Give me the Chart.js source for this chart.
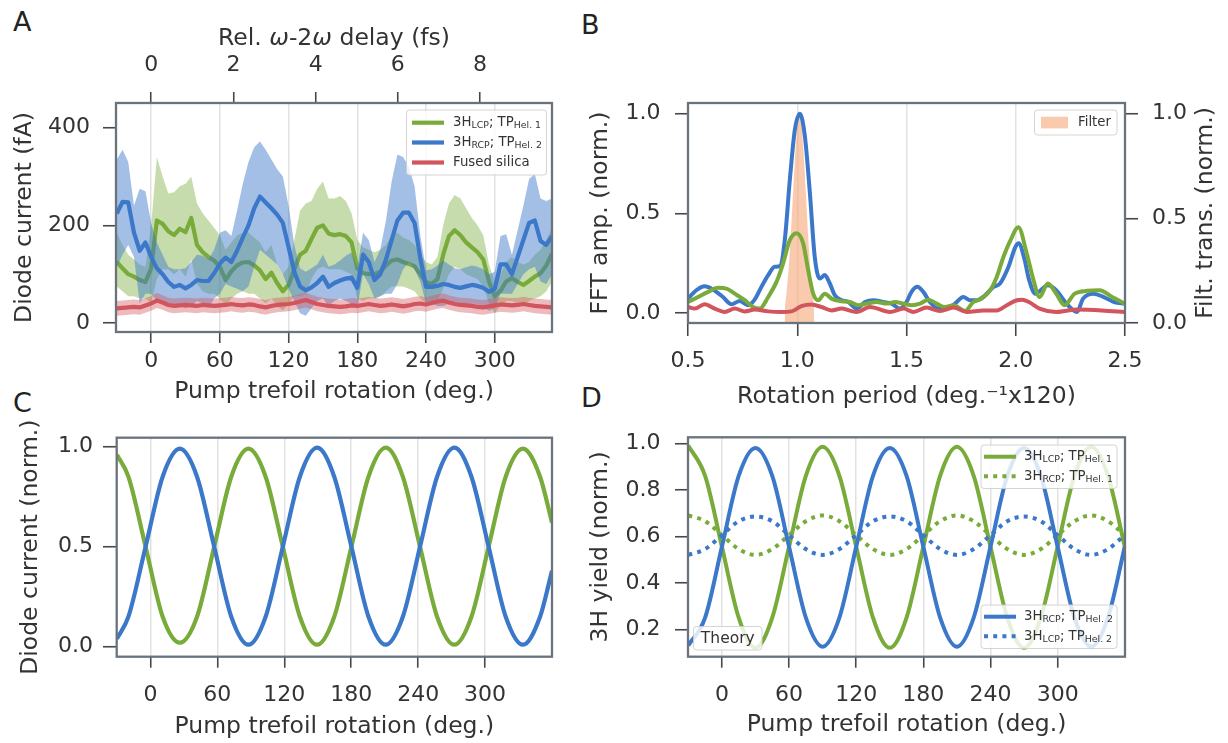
<!DOCTYPE html>
<html>
<head>
<meta charset="utf-8">
<script src="https://cdn.jsdelivr.net/npm/chart.js@4.4.1/dist/chart.umd.min.js"></script>
<style>
  html, body { margin: 0; padding: 0; background: #fff; }
  #fig { position: relative; width: 1228px; height: 743px; overflow: hidden; }
  canvas { position: absolute; }
  .lab { position: absolute; font: 27px "DejaVu Sans", sans-serif; color: #222; line-height: 1; }
</style>
</head>
<body>
<div id="fig">
  <div class="lab" style="left:13px;top:8px">A</div>
  <div class="lab" style="left:581px;top:11px">B</div>
  <div class="lab" style="left:13px;top:389px">C</div>
  <div class="lab" style="left:581px;top:384px">D</div>
  <canvas id="cA" width="580" height="410" style="left:0;top:0"></canvas>
  <canvas id="cB" width="648" height="412" style="left:580px;top:0"></canvas>
  <canvas id="cC" width="580" height="333" style="left:0;top:410px"></canvas>
  <canvas id="cD" width="648" height="333" style="left:580px;top:410px"></canvas>
</div>
<script>
// ---------- data ----------
// A: measured diode current vs pump trefoil rotation (deg)
const A_ROT = [-30,-25,-20,-15,-10,-5,0,5,10,15,
  20,25,30,35,40,45,50,55,60,65,
  70,75,80,85,90,95,100,105,110,115,
  120,125,130,135,140,145,150,155,160,165,
  170,175,180,185,190,195,200,205,210,215,
  220,225,230,235,240,245,250,255,260,265,
  270,275,280,285,290,295,300,305,310,315,
  320,325,330,335,340,345,350];
const A_BLUE = [224,248,247,185,148,165,135,112,100,84,
  74,78,71,78,88,86,86,102,122,134,
  125,148,175,200,235,259,247,235,222,205,
  155,105,75,67,73,82,95,74,82,87,
  91,93,72,140,125,88,100,130,170,210,
  226,226,205,133,74,74,76,80,78,74,
  72,75,78,76,72,64,70,120,120,100,
  135,170,205,210,168,160,178];
const A_BLUE_HI = [335,355,330,240,275,270,205,165,140,115,
  110,110,112,125,140,138,130,150,185,190,
  178,230,285,330,360,372,355,335,315,300,
  240,160,112,105,112,120,140,115,120,128,
  138,145,112,185,170,125,150,210,290,345,
  340,320,280,180,108,110,118,128,120,112,
  110,114,118,115,110,100,105,178,182,140,
  190,240,295,305,255,250,255];
const A_BLUE_LO = [115,140,160,135,40,60,60,45,40,38,
  35,35,30,35,45,40,30,50,60,80,
  75,70,65,75,115,150,140,130,120,100,
  70,45,20,15,30,45,50,35,45,50,
  45,40,30,100,80,50,55,60,60,80,
  110,125,110,85,40,40,35,35,40,38,
  35,35,40,38,32,25,30,60,60,60,
  80,100,110,115,85,80,100];
const A_GREEN = [125,112,100,95,88,84,112,210,203,188,
  180,193,186,215,160,145,135,128,115,88,
  106,118,124,125,118,108,90,103,82,65,
  78,110,140,148,172,195,200,183,180,182,
  178,165,112,102,100,100,105,118,128,130,
  125,121,116,100,84,80,90,140,178,190,
  180,165,155,145,130,85,55,66,85,92,
  84,78,86,95,102,118,142];
const A_GREEN_HI = [185,160,140,130,120,115,200,340,300,265,
  268,280,285,300,245,225,210,195,180,150,
  165,180,185,185,175,165,145,160,120,100,
  115,170,230,245,250,275,290,255,255,260,
  250,225,170,155,150,145,150,160,180,185,
  175,170,160,140,125,120,135,200,245,262,
  255,235,215,200,180,120,85,100,125,135,
  125,120,125,140,150,170,195];
const A_GREEN_LO = [75,65,55,55,50,50,40,90,110,110,
  100,110,95,130,80,65,60,60,50,35,
  50,60,65,60,60,50,40,50,35,25,
  40,55,55,60,90,110,115,110,110,110,
  105,100,50,45,50,50,55,65,75,75,
  75,70,65,50,40,40,45,70,100,115,
  110,100,95,90,75,40,20,35,45,45,
  40,35,45,50,55,65,85];
const A_RED = [30,31,32,33,32,36,40,46,42,37,
  35,36,37,36,35,37,36,35,36,37,
  39,37,36,38,37,34,32,35,37,38,
  39,41,44,47,43,39,37,35,34,33,
  34,36,35,37,39,37,35,36,38,36,
  34,36,39,40,38,41,44,46,42,39,
  37,36,35,33,32,34,36,38,37,36,
  37,39,37,35,34,33,32];
const A_RED_HI = [45,46,47,48,47,51,55,62,57,52,
  50,51,52,51,50,52,51,50,51,52,
  54,52,51,53,52,49,47,50,52,53,
  54,56,59,62,58,54,52,50,49,48,
  49,51,50,52,54,52,50,51,53,51,
  49,51,54,55,53,56,59,61,57,54,
  52,51,50,48,47,49,51,53,52,51,
  52,54,52,50,49,48,47];
const A_RED_LO = [15,16,17,18,17,21,25,31,27,22,
  20,21,22,21,20,22,21,20,21,22,
  24,22,21,23,22,19,17,20,22,23,
  24,26,29,32,28,24,22,20,19,18,
  19,21,20,22,24,22,20,21,23,21,
  19,21,24,25,23,26,29,31,27,24,
  22,21,20,18,17,19,21,23,22,21,
  22,24,22,20,19,18,17];
const A_Y_TICKS = [0, 200, 400];
const ROT_TICKS = [0, 60, 120, 180, 240, 300];
const DELAY_TICKS = [0, 2, 4, 6, 8];

// B: FFT amplitude vs rotation period
const B_BLUE_X = [0.5,0.538,0.576,0.615,0.66,0.699,0.737,0.775,0.805,0.836,0.867,0.897,0.92,0.943,0.966,0.989,1.012,1.035,1.058,1.08,
  1.103,1.126,1.149,1.172,1.203,1.234,1.272,1.31,1.348,1.394,1.432,1.47,1.5,1.523,1.549,1.577,1.607,1.646,1.684,1.722,
  1.76,1.791,1.822,1.86,1.898,1.928,1.967,1.998,2.013,2.04,2.06,2.09,2.147,2.185,2.232,2.28,2.308,2.356,2.403,2.45,2.5];
const B_BLUE_Y = [0.072,0.114,0.134,0.117,0.08,0.044,0.06,0.039,0.067,0.131,0.19,0.232,0.235,0.366,0.668,0.919,1.0,0.886,0.6,0.282,
  0.173,0.19,0.148,0.089,0.064,0.055,0.022,0.055,0.064,0.055,0.047,0.022,0.055,0.106,0.131,0.106,0.055,0.022,0.022,0.047,
  0.08,0.064,0.064,0.089,0.131,0.148,0.232,0.33,0.35,0.27,0.17,0.097,0.139,0.114,0.047,0.005,0.072,0.097,0.08,0.055,0.047];
const B_GREEN_X = [0.5,0.546,0.592,0.637,0.676,0.714,0.76,0.798,0.829,0.867,0.905,0.935,0.966,0.997,1.027,1.05,1.073,1.096,1.126,1.157,
  1.203,1.241,1.279,1.318,1.363,1.409,1.447,1.486,1.524,1.562,1.6,1.638,1.676,1.715,1.768,1.806,1.844,1.883,1.913,1.944,
  1.974,2.012,2.05,2.08,2.109,2.147,2.185,2.223,2.27,2.327,2.384,2.441,2.5];
const B_GREEN_Y = [0.055,0.08,0.106,0.126,0.122,0.097,0.064,0.03,0.022,0.08,0.156,0.248,0.366,0.40,0.349,0.215,0.097,0.064,0.097,0.072,
  0.059,0.055,0.039,0.047,0.055,0.047,0.055,0.047,0.039,0.047,0.067,0.047,0.03,0.039,0.01,0.055,0.072,0.114,0.181,0.282,
  0.36,0.43,0.3,0.17,0.08,0.148,0.097,0.039,0.097,0.111,0.114,0.08,0.047];
const B_RED_X = [0.5,0.531,0.576,0.622,0.668,0.714,0.76,0.805,0.867,0.928,0.974,1.019,1.065,1.111,1.157,1.203,1.272,1.333,
  1.424,1.486,1.531,1.592,1.653,1.715,1.776,1.852,1.913,1.959,2.005,2.03,2.06,2.109,2.185,2.28,2.394,2.5];
const B_RED_Y = [0.03,0.022,0.044,0.022,0.005,0.022,0.008,0.017,0.008,0.005,0.008,0.034,0.042,0.03,0.013,0.022,0.005,0.03,
  0.005,0.022,0.005,0.027,0.01,0.027,0.005,0.013,0.013,0.039,0.064,0.067,0.055,0.022,0.005,0.017,0.013,0.005];
const B_FILTER_X = [0.943,0.944,0.95,0.96,0.97,0.98,0.99,1.0,1.01,1.02,1.03,1.04,1.05,1.06,1.07,1.076,1.077];
const B_FILTER_Y = [0,0.085,0.135,0.25,0.41,0.607,0.8,0.946,1.0,0.946,0.8,0.607,0.41,0.25,0.135,0.09,0];
const B_X_TICKS = [0.5, 1.0, 1.5, 2.0, 2.5];
const B_Y_TICKS = [0, 0.5, 1.0];

// C: filtered diode current (normalised)
const C_ROT = [-30,-19.7,-4.3,11.0,26.4,41.8,57.2,72.5,87.9,103.3,118.7,134.0,149.4,164.8,180.2,195.5,210.9,226.3,241.7,257.0,
  272.4,287.8,303.2,318.5,333.9,349.3,360];
const C_BLUE = [0.04,0.15,0.5,0.85,0.99,0.85,0.5,0.15,0.01,0.15,0.5,0.85,0.995,0.85,0.5,0.15,0.01,0.15,0.5,0.85,
  0.995,0.85,0.5,0.15,0.01,0.15,0.38];
const C_GREEN = [0.96,0.85,0.5,0.15,0.02,0.15,0.5,0.85,0.99,0.85,0.5,0.15,0.01,0.15,0.5,0.85,0.995,0.85,0.5,0.15,
  0.01,0.15,0.5,0.85,0.99,0.85,0.62];
const C_Y_TICKS = [0, 0.5, 1.0];

// D: theory, 3H yield (normalised)
const D_ROT = [-30,-15,0,15,30,45,60,75,90,105,120,135,150,165,180,195,210,225,240,255,270,285,300,315,330,345,360];
const D_GREEN = [0.99,0.86,0.555,0.25,0.12,0.25,0.555,0.86,0.985,0.86,0.555,0.25,0.12,0.25,0.555,0.86,0.985,0.86,0.555,0.25,
  0.12,0.25,0.555,0.86,0.985,0.86,0.555];
const D_GREEN_DOT = [0.69,0.665,0.605,0.545,0.52,0.545,0.605,0.665,0.69,0.665,0.605,0.545,0.52,0.545,0.605,0.665,0.69,0.665,0.605,0.545,
  0.52,0.545,0.605,0.665,0.69,0.665,0.605];
const D_BLUE = [0.13,0.25,0.555,0.86,0.98,0.86,0.555,0.25,0.125,0.25,0.555,0.86,0.98,0.86,0.555,0.25,0.125,0.25,0.555,0.86,
  0.98,0.86,0.555,0.25,0.125,0.25,0.555];
const D_BLUE_DOT = [0.52,0.545,0.605,0.665,0.685,0.665,0.605,0.545,0.52,0.545,0.605,0.665,0.685,0.665,0.605,0.545,0.52,0.545,0.605,0.665,
  0.685,0.665,0.605,0.545,0.52,0.545,0.605];
const D_Y_TICKS = [0.2, 0.4, 0.6, 0.8, 1.0];

// legend labels: [text, isSubscript]
const LBL_LCP1 = [['3H',0],['LCP',1],['; TP',0],['Hel. 1',1]];
const LBL_RCP2 = [['3H',0],['RCP',1],['; TP',0],['Hel. 2',1]];
const LBL_RCP1 = [['3H',0],['RCP',1],['; TP',0],['Hel. 1',1]];
const LBL_LCP2 = [['3H',0],['LCP',1],['; TP',0],['Hel. 2',1]];
// top axis title of A, [text, italic]
const A_TOP_TITLE = [['Rel. ',0],['ω',1],['-2',0],['ω',1],[' delay (fs)',0]];

// ---------- styling ----------
const TXT = '#333333';
const SPINE = '#69737d';
const GRID = '#e2e2e2';
const TICKC = '#474747';
const GREEN = '#79ab3a';
const BLUE = '#3b78c9';
const RED = '#d2545d';
const FILTER = 'rgba(247,170,124,0.62)';
const FONT = '"DejaVu Sans", sans-serif';
Chart.defaults.font.family = FONT;
Chart.defaults.color = TXT;

const pts = (xs, ys) => xs.map((x, i) => ({ x: x, y: ys[i] }));

function axis(o) {
  const vertical = o.pos === 'left' || o.pos === 'right';
  return {
    type: 'linear', axis: vertical ? 'y' : 'x', position: o.pos, min: o.min, max: o.max,
    afterBuildTicks: s => { s.ticks = o.ticks.map(v => ({ value: v })); },
    afterFit: s => {
      if (vertical) s.width = o.size; else s.height = o.size;
      s.paddingLeft = 0; s.paddingRight = 0; s.paddingTop = 0; s.paddingBottom = 0;
    },
    grid: { drawOnChartArea: !!o.grid, color: GRID, lineWidth: 1.5, drawTicks: true,
            tickLength: o.tl, tickWidth: 1.6, tickColor: TICKC },
    border: { display: false },
    ticks: { font: { size: 22 }, color: TXT, padding: o.pad, maxRotation: 0, minRotation: 0,
             autoSkip: false, includeBounds: false, callback: o.fmt || (v => String(v)) },
    title: o.title ? { display: true, text: o.title, color: TXT, font: { size: 23.5 }, padding: o.tpad }
                   : { display: false }
  };
}
const one = v => v.toFixed(1);

function band(xs, ys, fillColor, order) {
  return { data: pts(xs, ys), borderColor: 'rgba(0,0,0,0)', borderWidth: 0, pointRadius: 0,
           fill: fillColor ? '-1' : false, backgroundColor: fillColor || 'rgba(0,0,0,0)', order: order };
}
function line(xs, ys, color, width, order, extra) {
  return Object.assign({ data: pts(xs, ys), borderColor: color, borderWidth: width, pointRadius: 0,
                         fill: false, order: order, borderJoinStyle: 'round', borderCapStyle: 'butt' }, extra || {});
}

const framePlugin = {
  id: 'frame',
  afterDatasetsDraw(chart) {
    const { ctx, chartArea: a } = chart;
    ctx.save();
    ctx.strokeStyle = SPINE; ctx.lineWidth = 2.3;
    ctx.strokeRect(a.left, a.top, a.right - a.left, a.bottom - a.top);
    ctx.restore();
  }
};
// draws on top of the chart in page coordinates
function overlay(ox, oy, fn) {
  return { id: 'overlay', afterDraw(chart) {
    const ctx = chart.ctx; ctx.save(); ctx.translate(-ox, -oy); fn(ctx); ctx.restore();
  } };
}
function roundRect(ctx, x, y, w, h, r) {
  ctx.beginPath();
  ctx.moveTo(x + r, y);
  ctx.arcTo(x + w, y, x + w, y + h, r);
  ctx.arcTo(x + w, y + h, x, y + h, r);
  ctx.arcTo(x, y + h, x, y, r);
  ctx.arcTo(x, y, x + w, y, r);
  ctx.closePath();
}
function legendBox(ctx, x, y, w, h) {
  roundRect(ctx, x, y, w, h, 3);
  ctx.fillStyle = 'rgba(255,255,255,0.82)'; ctx.fill();
  ctx.strokeStyle = 'rgba(205,205,205,0.85)'; ctx.lineWidth = 1; ctx.stroke();
}
function rich(ctx, parts, x, y) {
  ctx.fillStyle = TXT; ctx.textAlign = 'left'; ctx.textBaseline = 'middle';
  parts.forEach(([t, sub]) => {
    ctx.font = (sub ? 9.4 : 13.3) + 'px ' + FONT;
    ctx.fillText(t, x, sub ? y + 3 : y);
    x += ctx.measureText(t).width;
  });
}
function sample(ctx, x1, x2, y, color, width, dash) {
  ctx.save();
  ctx.strokeStyle = color; ctx.lineWidth = width; ctx.setLineDash(dash || []);
  ctx.beginPath(); ctx.moveTo(x1, y); ctx.lineTo(x2, y); ctx.stroke();
  ctx.restore();
}
const base = { responsive: false, animation: false, devicePixelRatio: 1,
               plugins: { legend: { display: false }, tooltip: { enabled: false } } };

// ---------- A ----------
new Chart(document.getElementById('cA'), {
  type: 'line',
  data: { datasets: [
    band(A_ROT, A_GREEN_LO, null, 6), band(A_ROT, A_GREEN_HI, 'rgba(121,171,58,0.42)', 6),
    line(A_ROT, A_GREEN, GREEN, 4.2, 5),
    band(A_ROT, A_BLUE_LO, null, 4), band(A_ROT, A_BLUE_HI, 'rgba(59,120,201,0.47)', 4),
    line(A_ROT, A_BLUE, BLUE, 4.2, 3),
    band(A_ROT, A_RED_LO, null, 2), band(A_ROT, A_RED_HI, 'rgba(210,84,93,0.4)', 2),
    line(A_ROT, A_RED, RED, 4.2, 1)
  ] },
  options: Object.assign({}, base, {
    layout: { padding: { right: 28 } },
    scales: {
      x: axis({ pos: 'bottom', min: -30.7, max: 350, ticks: ROT_TICKS, size: 78, tl: 11, pad: 5.5, grid: true,
                title: 'Pump trefoil rotation (deg.)', tpad: { top: 0, bottom: 4 } }),
      xTop: axis({ pos: 'top', min: -0.856, max: 9.749, ticks: DELAY_TICKS, size: 103, tl: 11, pad: 13.8 }),
      y: axis({ pos: 'left', min: -18.4, max: 450.6, ticks: A_Y_TICKS, size: 116, tl: 13, pad: 13,
                title: 'Diode current (fA)', tpad: { top: 11, bottom: 0 } })
    }
  }),
  plugins: [framePlugin, overlay(0, 0, ctx => {
    // top axis title with italic omega
    ctx.textBaseline = 'middle'; ctx.textAlign = 'left'; ctx.fillStyle = TXT;
    const fontOf = it => (it ? 'italic ' : '') + '23.5px ' + FONT;
    let w = 0;
    A_TOP_TITLE.forEach(([t, it]) => { ctx.font = fontOf(it); w += ctx.measureText(t).width; });
    let x = 334 - w / 2;
    A_TOP_TITLE.forEach(([t, it]) => { ctx.font = fontOf(it); ctx.fillText(t, x, 38.5); x += ctx.measureText(t).width; });
    // legend
    legendBox(ctx, 406.5, 110, 140, 65);
    [[122.7, GREEN, LBL_LCP1], [142.5, BLUE, LBL_RCP2], [162.5, RED, [['Fused silica', 0]]]].forEach(([y, c, lbl]) => {
      sample(ctx, 412, 444, y, c, 4.2);
      rich(ctx, lbl, 453, y);
    });
  })]
});

// ---------- B ----------
new Chart(document.getElementById('cB'), {
  type: 'line',
  data: { datasets: [
    { data: pts(B_FILTER_X, B_FILTER_Y), yAxisID: 'yR', borderColor: 'rgba(0,0,0,0)', borderWidth: 0, pointRadius: 0,
      fill: 'origin', backgroundColor: FILTER, order: 10 },
    line(B_BLUE_X, B_BLUE_Y, BLUE, 4, 3, { cubicInterpolationMode: 'monotone' }),
    line(B_GREEN_X, B_GREEN_Y, GREEN, 4, 2, { cubicInterpolationMode: 'monotone' }),
    line(B_RED_X, B_RED_Y, RED, 4, 1, { cubicInterpolationMode: 'monotone' })
  ] },
  options: Object.assign({}, base, {
    layout: { padding: { top: 103 } },
    scales: {
      x: axis({ pos: 'bottom', min: 0.5, max: 2.5, ticks: B_X_TICKS, size: 89, tl: 13, pad: 12.5, grid: true, fmt: one,
                title: 'Rotation period (deg.⁻¹x120)', tpad: { top: 0, bottom: 1 } }),
      y: axis({ pos: 'left', min: -0.0503, max: 1.0537, ticks: B_Y_TICKS, size: 108, tl: 13, pad: 14.4, fmt: one,
                title: 'FFT amp. (norm.)', tpad: { top: 6.6, bottom: 0 } }),
      yR: axis({ pos: 'right', min: 0, max: 1.0513, ticks: B_Y_TICKS, size: 103, tl: 13, pad: 14, fmt: one })
    }
  }),
  plugins: [framePlugin, overlay(580, 0, ctx => {
    ctx.save();
    ctx.translate(1206, 213); ctx.rotate(-Math.PI / 2);
    ctx.font = '23.5px ' + FONT; ctx.fillStyle = TXT; ctx.textAlign = 'center'; ctx.textBaseline = 'middle';
    ctx.fillText('Filt. trans. (norm.)', 0, 0);
    ctx.restore();
    legendBox(ctx, 1034.5, 110, 82.5, 25);
    ctx.fillStyle = FILTER; ctx.fillRect(1041, 116.7, 27, 11.7);
    rich(ctx, [['Filter', 0]], 1078, 122.7);
  })]
});

// ---------- C ----------
new Chart(document.getElementById('cC'), {
  type: 'line',
  data: { datasets: [
    line(C_ROT, C_GREEN, GREEN, 4.2, 2, { cubicInterpolationMode: 'monotone' }),
    line(C_ROT, C_BLUE, BLUE, 4.2, 1, { cubicInterpolationMode: 'monotone' })
  ] },
  options: Object.assign({}, base, {
    layout: { padding: { top: 27.7, right: 28 } },
    scales: {
      x: axis({ pos: 'bottom', min: -30.2, max: 360, ticks: ROT_TICKS, size: 86.3, tl: 11, pad: 14, grid: true,
                title: 'Pump trefoil rotation (deg.)', tpad: { top: 0, bottom: 2.2 } }),
      y: axis({ pos: 'left', min: -0.05, max: 1.045, ticks: C_Y_TICKS, size: 116.7, tl: 13.7, pad: 10, fmt: one,
                title: 'Diode current (norm.)', tpad: { top: 17, bottom: 0 } })
    }
  }),
  plugins: [framePlugin]
});

// ---------- D ----------
new Chart(document.getElementById('cD'), {
  type: 'line',
  data: { datasets: [
    line(D_ROT, D_GREEN, GREEN, 4, 4, { cubicInterpolationMode: 'monotone' }),
    line(D_ROT, D_GREEN_DOT, GREEN, 4, 3, { cubicInterpolationMode: 'monotone', borderDash: [4, 5.2] }),
    line(D_ROT, D_BLUE, BLUE, 4, 2, { cubicInterpolationMode: 'monotone' }),
    line(D_ROT, D_BLUE_DOT, BLUE, 4, 1, { cubicInterpolationMode: 'monotone', borderDash: [4, 5.2] })
  ] },
  options: Object.assign({}, base, {
    layout: { padding: { top: 27.3, right: 103 } },
    scales: {
      x: axis({ pos: 'bottom', min: -30.3, max: 360.2, ticks: ROT_TICKS, size: 86.3, tl: 11, pad: 14, grid: true,
                title: 'Pump trefoil rotation (deg.)', tpad: { top: 0, bottom: 4 } }),
      y: axis({ pos: 'left', min: 0.082, max: 1.026, ticks: D_Y_TICKS, size: 108, tl: 13, pad: 14.4, fmt: one,
                title: '3H yield (norm.)', tpad: { top: 6.6, bottom: 0 } })
    }
  }),
  plugins: [framePlugin, overlay(580, 410, ctx => {
    legendBox(ctx, 981, 445, 136, 43.5);
    sample(ctx, 984, 1016, 456.7, GREEN, 4);
    rich(ctx, LBL_LCP1, 1024, 456.7);
    sample(ctx, 984, 1016, 476.3, GREEN, 4, [4, 5.2]);
    rich(ctx, LBL_RCP1, 1024, 476.3);
    legendBox(ctx, 981, 605, 136, 43.5);
    sample(ctx, 984, 1016, 616.7, BLUE, 4);
    rich(ctx, LBL_RCP2, 1024, 616.7);
    sample(ctx, 984, 1016, 636.3, BLUE, 4, [4, 5.2]);
    rich(ctx, LBL_LCP2, 1024, 636.3);
    legendBox(ctx, 693.5, 626.5, 68.5, 23.5);
    ctx.font = '15.5px ' + FONT; ctx.fillStyle = TXT; ctx.textAlign = 'center'; ctx.textBaseline = 'middle';
    ctx.fillText('Theory', 727.8, 638.5);
  })]
});
</script>
</body>
</html>
